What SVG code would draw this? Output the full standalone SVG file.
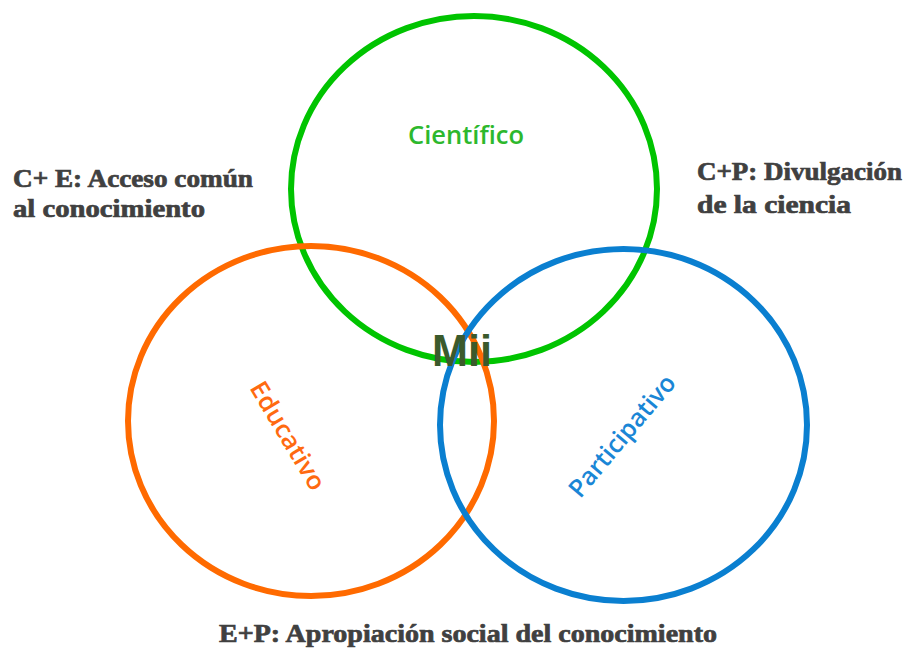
<svg xmlns="http://www.w3.org/2000/svg" width="904" height="650" viewBox="0 0 904 650">
<style>
.ring{fill:none;stroke-width:6}
.lbl{font-family:"Liberation Serif","Times New Roman",serif;font-weight:bold;fill:#404040;stroke:#404040;stroke-width:0.7;font-size:26px}
.set{font-family:"Open Sans","Liberation Sans",sans-serif;font-weight:600;font-size:25px}
</style>
<rect width="904" height="650" fill="#ffffff"/>
<g id="cientifico">
<ellipse class="ring" cx="474" cy="189" rx="183" ry="173" stroke="#00c400"/>
<text class="set" x="466" y="144" text-anchor="middle" fill="#2db82d" textLength="116" lengthAdjust="spacingAndGlyphs">Científico</text>
</g>
<g id="educativo">
<ellipse class="ring" cx="311" cy="421" rx="183" ry="175" stroke="#ff6a00"/>
<text class="set" transform="translate(289,435) rotate(59)" text-anchor="middle" dominant-baseline="central" fill="#ff6a10" textLength="122" lengthAdjust="spacingAndGlyphs">Educativo</text>
</g>
<g id="participativo">
<ellipse class="ring" cx="623.5" cy="425" rx="183.5" ry="176" stroke="#0a7fd0"/>
<text class="set" transform="translate(621,435) rotate(-50)" text-anchor="middle" dominant-baseline="central" fill="#1a86d6" textLength="151" lengthAdjust="spacingAndGlyphs">Participativo</text>
</g>
<g id="mii">
<text x="462" y="366" text-anchor="middle" font-family="Liberation Sans, Arial, sans-serif" font-weight="bold" font-size="45" fill="#3b5a2c" textLength="60" lengthAdjust="spacingAndGlyphs">Mii</text>
</g>
<g id="labels">
<text class="lbl" x="13" y="187" textLength="240" lengthAdjust="spacingAndGlyphs">C+ E: Acceso común</text>
<text class="lbl" x="13" y="217" textLength="192" lengthAdjust="spacingAndGlyphs">al conocimiento</text>
<text class="lbl" x="697" y="180" textLength="205" lengthAdjust="spacingAndGlyphs">C+P: Divulgación</text>
<text class="lbl" x="697" y="213" textLength="154" lengthAdjust="spacingAndGlyphs">de la ciencia</text>
<text class="lbl" x="219" y="642" textLength="498" lengthAdjust="spacingAndGlyphs">E+P: Apropiación social del conocimiento</text>
</g>
</svg>
